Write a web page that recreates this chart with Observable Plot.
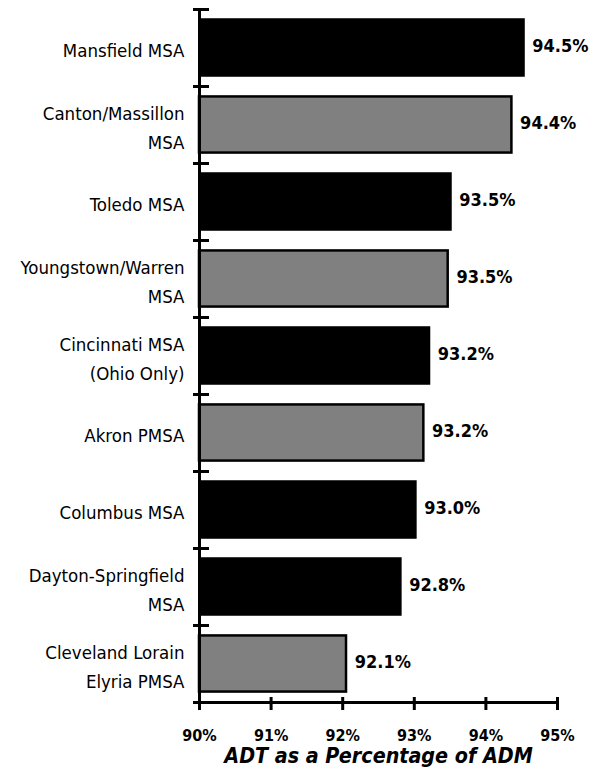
<!DOCTYPE html>
<html>
<head>
<meta charset="utf-8">
<script src="https://cdn.jsdelivr.net/npm/d3@7"></script>
<script src="https://cdn.jsdelivr.net/npm/@observablehq/plot@0.6"></script>
<style>
  html, body { margin: 0; padding: 0; background: #fff; }
  #chart svg { display: block; }
  #chart svg text { font-stretch: condensed; }
</style>
</head>
<body>
<div id="chart"></div>
<script>
// Data
const categories = [
  "Mansfield MSA",
  "Canton/Massillon\nMSA",
  "Toledo MSA",
  "Youngstown/Warren\nMSA",
  "Cincinnati MSA\n(Ohio Only)",
  "Akron PMSA",
  "Columbus MSA",
  "Dayton-Springfield\nMSA",
  "Cleveland Lorain\nElyria PMSA"
];
const values = [94.55, 94.38, 93.53, 93.49, 93.23, 93.15, 93.04, 92.83, 92.07];
const valueLabels = ["94.5%", "94.4%", "93.5%", "93.5%", "93.2%", "93.2%", "93.0%", "92.8%", "92.1%"];
const shade = ["dark", "light", "dark", "light", "dark", "light", "dark", "dark", "light"];
const xTicks = [90, 91, 92, 93, 94, 95];
const xTitle = "ADT as a Percentage of ADM";

const data = categories.map((name, i) => ({name, i, value: values[i], label: valueLabels[i], shade: shade[i]}));
const boundaries = d3.range(categories.length + 1);

const font = "'DejaVu Sans Condensed', 'Roboto Condensed', 'Liberation Sans Narrow', 'Arial Narrow', 'DejaVu Sans', sans-serif";
const pad = 0.12;

const chart = Plot.plot({
  width: 589,
  height: 782,
  marginLeft: 199,
  marginRight: 32,
  marginTop: 9,
  marginBottom: 80,
  style: {fontFamily: font, background: "#fff", color: "#000"},
  x: {domain: [90, 95]},
  y: {domain: [0, categories.length], reverse: true, axis: null},
  color: {domain: ["dark", "light"], range: ["#000000", "#808080"]},
  marks: [
    Plot.rectX(data.filter(d => d.shade === "dark"), {
      x1: 90, x2: "value", y1: d => d.i + pad, y2: d => d.i + 1 - pad,
      fill: "shade"
    }),
    Plot.rectX(data.filter(d => d.shade === "light"), {
      x1: 90, x2: "value", y1: d => d.i + pad, y2: d => d.i + 1 - pad,
      fill: "shade", stroke: "#000", strokeWidth: 2.5, insetRight: 1.2, insetTop: 1.2, insetBottom: 1.2
    }),
    Plot.ruleX([90], {y1: 0, y2: categories.length, stroke: "#000", strokeWidth: 3}),
    Plot.axisY(boundaries, {anchor: "left", tickSize: 16, dx: 10, fill: "none", stroke: "#000", strokeWidth: 3, label: null}),
    Plot.ruleY([categories.length], {x1: 90, x2: 95, stroke: "#000", strokeWidth: 3}),
    Plot.axisX(xTicks, {anchor: "bottom", tickSize: 13, dy: -5, fill: "none", stroke: "#000", strokeWidth: 3, label: null}),
    Plot.axisX(xTicks, {anchor: "bottom", tickSize: 0, tickPadding: 27, tickFormat: d => d + "%",
      fontSize: 16, fontWeight: "bold", fill: "#000", label: null}),
    Plot.text(data, {
      x: () => 90, y: d => d.i + 0.5, text: "name", textAnchor: "end", dx: -15,
      lineHeight: 1.57, fontSize: 18.5, fill: "#000"
    }),
    Plot.text(data, {
      x: "value", y: d => d.i + 0.5, text: "label", textAnchor: "start", dx: 7, dy: -2,
      fontSize: 18, fontWeight: "bold", fill: "#000"
    }),
    Plot.text([xTitle], {
      frameAnchor: "bottom", dy: 54, lineAnchor: "middle",
      fontSize: 21.3, fontWeight: "bold", fontStyle: "italic", fill: "#000"
    })
  ]
});
document.getElementById("chart").append(chart);
</script>
</body>
</html>
